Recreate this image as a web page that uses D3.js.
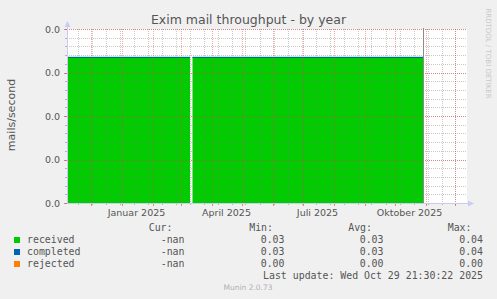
<!DOCTYPE html>
<html><head><meta charset="utf-8">
<script src="https://cdn.jsdelivr.net/npm/d3@7"></script>
<style>body{margin:0;background:#f0f0f0;}svg{display:block;}</style>
</head><body>
<script>
// ---- data ----
const sampleTimes = ["2024-11-07T12:00Z","2024-12-01T00:00Z","2025-01-01T00:00Z","2025-02-01T00:00Z","2025-03-01T00:00Z","2025-03-10T12:00Z","2025-03-11T18:00Z","2025-03-13T00:00Z","2025-04-01T00:00Z","2025-05-01T00:00Z","2025-06-01T00:00Z","2025-07-01T00:00Z","2025-08-01T00:00Z","2025-09-01T00:00Z","2025-10-01T00:00Z","2025-10-29T21:30Z"];
const receivedValues  = [0.0336,0.0336,0.0336,0.0336,0.0336,0.0336,null,0.0336,0.0336,0.0336,0.0336,0.0336,0.0336,0.0336,0.0336,0.0336];
const completedValues = [0.0336,0.0336,0.0336,0.0336,0.0336,0.0336,null,0.0336,0.0336,0.0336,0.0336,0.0336,0.0336,0.0336,0.0336,0.0336];
const rejectedValues  = [0,0,0,0,0,0,null,0,0,0,0,0,0,0,0,0];
const timeDomain = ["2024-11-07T12:00Z","2025-12-12T12:00Z"];
const lastUpdateTime = "2025-10-29T21:30Z";
const yDomain = [0, 0.04];
const yMajorTicks = [0, 0.01, 0.02, 0.03, 0.04];
const xLabelDates = ["2025-01-16T00:00Z","2025-04-16T00:00Z","2025-07-16T00:00Z","2025-10-16T00:00Z"];
const xLabels = ["Januar 2025","April 2025","Juli 2025","Oktober 2025"];
const minorWeekStart = "2024-11-18T00:00Z";
const seriesNames = ["received","completed","rejected"];
const seriesColors = ["#00cc00","#0066b3","#ff8000"];
const curValues = ["-nan","-nan","-nan"];
const minValues = ["0.03","0.03","0.00"];
const avgValues = ["0.03","0.03","0.00"];
const maxValues = ["0.04","0.04","0.00"];
const title = "Exim mail throughput - by year";
const yTitle = "mails/second";
const lastUpdateText = "Last update: Wed Oct 29 21:30:22 2025";

// ---- layout ----
const W = 497, H = 299;
const L = 67, R = 467, T = 29, B = 203;
const svg = d3.select("body").append("svg").attr("width", W).attr("height", H);
svg.append("rect").attr("width", W).attr("height", H).attr("fill", "#f0f0f0");

const x = d3.scaleUtc().domain(timeDomain.map(d => new Date(d))).range([L, R]);
const y = d3.scaleLinear().domain(yDomain).range([B, T]);

svg.append("rect").attr("x", L).attr("y", T).attr("width", R - L).attr("height", B - T).attr("fill", "#ffffff");

const pts = sampleTimes.map((t, i) => ({t: new Date(t), r: receivedValues[i], c: completedValues[i], j: rejectedValues[i]}));

// received area
svg.append("path").datum(pts)
  .attr("d", d3.area().defined(d => d.r != null).x(d => x(d.t)).y0(y(0)).y1(d => y(d.r)))
  .attr("fill", seriesColors[0]);

// grid (drawn on top, semi transparent like rrdtool)
const g = svg.append("g");
const minorY = d3.range(0, 0.0401, 0.002);
const [d0, d1] = x.domain();
const minorX = d3.utcMonday.range(new Date(minorWeekStart), d1, 2);
const majorX = d3.utcMonth.range(d0, d1);

g.selectAll(".mny").data(minorY).join("line")
  .attr("x1", L).attr("x2", R).attr("y1", d => Math.round(y(d)) + 0.5).attr("y2", d => Math.round(y(d)) + 0.5)
  .attr("stroke", "rgba(120,120,120,0.4)").attr("stroke-dasharray", "1,1");
g.selectAll(".mnx").data(minorX).join("line")
  .attr("y1", T).attr("y2", B).attr("x1", d => Math.round(x(d)) + 0.5).attr("x2", d => Math.round(x(d)) + 0.5)
  .attr("stroke", "rgba(120,120,120,0.4)").attr("stroke-dasharray", "1,1");
g.selectAll(".mjy").data(yMajorTicks).join("line")
  .attr("x1", L).attr("x2", R).attr("y1", d => Math.round(y(d)) + 0.5).attr("y2", d => Math.round(y(d)) + 0.5)
  .attr("stroke", "rgba(230,60,60,0.45)").attr("stroke-dasharray", "1,1");
g.selectAll(".mjx").data(majorX).join("line")
  .attr("y1", T).attr("y2", B).attr("x1", d => Math.round(x(d)) + 0.5).attr("x2", d => Math.round(x(d)) + 0.5)
  .attr("stroke", "rgba(230,60,60,0.45)").attr("stroke-dasharray", "1,1");

// tick marks
g.selectAll(".tkx").data(minorX).join("line")
  .attr("y1", B).attr("y2", B + 2).attr("x1", d => Math.round(x(d)) + 0.5).attr("x2", d => Math.round(x(d)) + 0.5)
  .attr("stroke", "rgba(120,120,120,0.5)");
g.selectAll(".tkmx").data(majorX).join("line")
  .attr("y1", B).attr("y2", B + 3).attr("x1", d => Math.round(x(d)) + 0.5).attr("x2", d => Math.round(x(d)) + 0.5)
  .attr("stroke", "rgba(230,60,60,0.6)");
g.selectAll(".tky").data(minorY).join("line")
  .attr("x1", L - 2).attr("x2", L).attr("y1", d => Math.round(y(d)) + 0.5).attr("y2", d => Math.round(y(d)) + 0.5)
  .attr("stroke", "rgba(120,120,120,0.5)");
g.selectAll(".tkmy").data(yMajorTicks).join("line")
  .attr("x1", L - 3).attr("x2", L).attr("y1", d => Math.round(y(d)) + 0.5).attr("y2", d => Math.round(y(d)) + 0.5)
  .attr("stroke", "rgba(230,60,60,0.6)");

// lines
svg.append("path").datum(pts)
  .attr("d", d3.line().defined(d => d.c != null).x(d => x(d.t)).y(d => Math.round(y(d.c)) + 0.5))
  .attr("fill", "none").attr("stroke", seriesColors[1]).attr("stroke-width", 1);
svg.append("path").datum(pts)
  .attr("d", d3.line().defined(d => d.j != null).x(d => x(d.t)).y(d => Math.round(y(d.j)) + 0.5))
  .attr("fill", "none").attr("stroke", seriesColors[2]).attr("stroke-width", 1);

// now rule
const nx = Math.round(x(new Date(lastUpdateTime))) + 0.5;
svg.append("line").attr("x1", nx).attr("x2", nx).attr("y1", T - 1).attr("y2", B)
  .attr("stroke", "#8a8a8a").attr("stroke-width", 1);

// axes (drawn over the zero line)
const axisColor = "#c8ccf5";
svg.append("line").attr("x1", L + 0.5).attr("x2", L + 0.5).attr("y1", B).attr("y2", T - 5).attr("stroke", axisColor);
svg.append("path").attr("d", `M${L - 2.5},${T - 2} L${L + 0.5},${T - 8} L${L + 3.5},${T - 2} Z`).attr("fill", axisColor);
svg.append("line").attr("x1", L).attr("x2", R + 3).attr("y1", B + 0.5).attr("y2", B + 0.5).attr("stroke", "#e4e4f4").attr("stroke-width", 1.2);
svg.append("line").attr("x1", L).attr("x2", R + 3).attr("y1", B + 0.5).attr("y2", B + 0.5).attr("stroke", axisColor);
svg.append("path").attr("d", `M${R + 1},${B - 2.5} L${R + 7},${B + 0.5} L${R + 1},${B + 3.5} Z`).attr("fill", axisColor);

// tick labels
const tickFont = "DejaVu Sans, sans-serif";
svg.selectAll(".yl").data(yMajorTicks).join("text")
  .attr("x", 60).attr("y", d => y(d) + 3.5).attr("text-anchor", "end")
  .attr("font-family", tickFont).attr("font-size", 9.5).attr("fill", "#555")
  .text(d => d3.format(".1f")(d));
svg.selectAll(".xl").data(xLabelDates).join("text")
  .attr("x", d => x(new Date(d))).attr("y", 216).attr("text-anchor", "middle")
  .attr("font-family", tickFont).attr("font-size", 9.5).attr("fill", "#555")
  .text((d, i) => xLabels[i]);

// titles
svg.append("text").attr("x", 248.5).attr("y", 24).attr("text-anchor", "middle")
  .attr("font-family", tickFont).attr("font-size", 12.5).attr("fill", "#555").text(title);
svg.append("text").attr("transform", "translate(15,115) rotate(-90)").attr("text-anchor", "middle")
  .attr("font-family", tickFont).attr("font-size", 11).attr("fill", "#555").text(yTitle);
svg.append("text").attr("transform", "translate(486,53.5) rotate(90)").attr("text-anchor", "middle")
  .attr("font-family", tickFont).attr("font-size", 7).attr("fill", "#c8c8c8").text("RRDTOOL / TOBI OETIKER");

// legend
const mono = "DejaVu Sans Mono, monospace";
const ms = 9.9;
const hdr = [["Cur:", 172.5], ["Min:", 273], ["Avg:", 372], ["Max:", 471.5]];
svg.selectAll(".hd").data(hdr).join("text")
  .attr("x", d => d[1]).attr("y", 231).attr("text-anchor", "end")
  .attr("font-family", mono).attr("font-size", ms).attr("fill", "#555").text(d => d[0]);
const colsX = [184.5, 284.5, 383.5, 483];
seriesNames.forEach((name, i) => {
  const by = 243 + i * 12;
  svg.append("rect").attr("x", 14).attr("y", by - 6).attr("width", 6).attr("height", 6).attr("fill", seriesColors[i]);
  svg.append("text").attr("x", 27).attr("y", by).attr("font-family", mono).attr("font-size", ms).attr("fill", "#555").text(name);
  [curValues[i], minValues[i], avgValues[i], maxValues[i]].forEach((v, k) => {
    svg.append("text").attr("x", colsX[k]).attr("y", by).attr("text-anchor", "end")
      .attr("font-family", mono).attr("font-size", ms).attr("fill", "#555").text(v);
  });
});
svg.append("text").attr("x", 483).attr("y", 279).attr("text-anchor", "end")
  .attr("font-family", mono).attr("font-size", ms).attr("fill", "#555").text(lastUpdateText);
svg.append("text").attr("x", 248).attr("y", 290).attr("text-anchor", "middle")
  .attr("font-family", tickFont).attr("font-size", 7.5).attr("fill", "#b0b0b0").text("Munin 2.0.73");
</script>
</body></html>
